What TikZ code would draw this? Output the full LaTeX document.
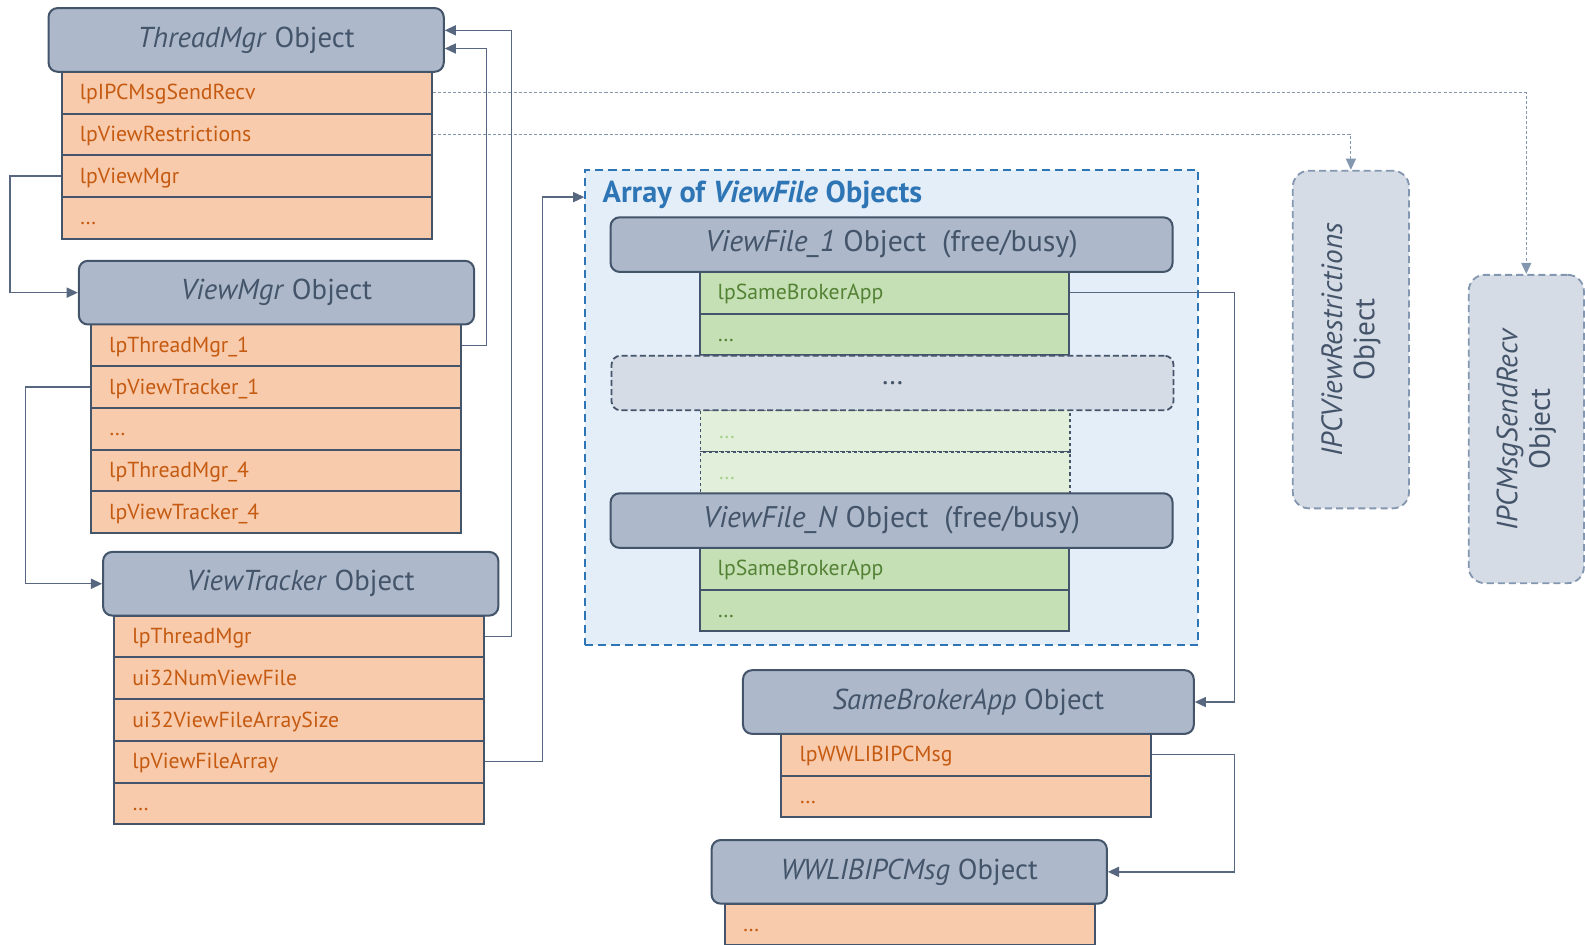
\documentclass[tikz,border=0pt]{standalone}
\usepackage{fontspec}
\setmainfont{PT Sans}
\usetikzlibrary{arrows.meta,calc}

\definecolor{slate}{HTML}{44546A}
\definecolor{hdrfill}{HTML}{ADB9CA}
\definecolor{rowfill}{HTML}{F8CBAD}
\definecolor{rowtext}{HTML}{C55A11}
\definecolor{grfill}{HTML}{C5E0B4}
\definecolor{grtext}{HTML}{548235}
\definecolor{fadefill}{HTML}{E2EFDA}
\definecolor{fadetext}{HTML}{A9D18E}
\definecolor{arrfill}{HTML}{E4EEF8}
\definecolor{arrline}{HTML}{2E75B6}
\definecolor{ghostfill}{HTML}{D6DCE5}
\definecolor{refline}{HTML}{8497B0}
\definecolor{linkline}{HTML}{56677F}

\newcommand\HdrFont{\fontsize{28.5}{32}\selectfont}
\newcommand\WideHdrFont{\fontsize{29.5}{33}\selectfont}
\newcommand\RowFont{\fontsize{21.5}{25}\selectfont}
\newcommand\TitleFont{\fontsize{30}{34}\selectfont\bfseries}
\newcommand\IpcFont{\fontsize{29}{32}\selectfont}
\newcommand\RowStrut{\rule[-5.5pt]{0pt}{25pt}}

% one column of member rows: name prefix, x, top y, row style, texts
\newcommand\memberrows[5]{%
  \foreach \txt [count=\k] in {#5}{%
    \node[#4] (#1\k) at (#2,{#3+(\k-1)*41.3}) {\RowStrut\txt};
  }}

\tikzset{
  hdr/.style={draw=slate, fill=hdrfill, line width=2pt, rounded corners=9pt,
    anchor=north west, minimum height=63pt, inner sep=0pt, text=slate, font=\HdrFont},
  rowbox/.style={draw=slate, line width=2pt, anchor=north west,
    minimum height=41.3pt, text width=330pt, inner xsep=18pt, inner ysep=0pt,
    align=left, font=\RowFont},
  orangerow/.style={rowbox, fill=rowfill, text=rowtext},
  greenrow/.style={rowbox, fill=grfill, text=grtext},
  faderow/.style={rowbox, fill=fadefill, text=fadetext, dashed, line width=1.6pt},
  ghost/.style={draw=refline, fill=ghostfill, line width=1.8pt,
    dash pattern=on 7pt off 4pt, rounded corners=16pt, anchor=north west, inner sep=0pt},
  link/.style={draw=linkline, line width=1.3pt,
    -{Triangle[length=11pt,width=10pt]}},
  ref/.style={draw=refline, line width=1.1pt, dash pattern=on 3pt off 2pt,
    -{Triangle[length=11pt,width=10pt]}},
}

\begin{document}
\begin{tikzpicture}[x=1pt,y=-1pt]
\useasboundingbox (0,0) rectangle (1568,934);

% ThreadMgr
\memberrows{tm}{60}{70}{orangerow}{lpIPCMsgSendRecv,lpViewRestrictions,lpViewMgr,…}
\node[hdr, minimum width=391pt] (tmh) at (47,7) {\textit{ThreadMgr} Object};

% ViewMgr
\memberrows{vm}{89}{320}{orangerow}{lpThreadMgr\_1,lpViewTracker\_1,…,lpThreadMgr\_4,lpViewTracker\_4}
\node[hdr, minimum width=391pt] (vmh) at (77,257) {\textit{ViewMgr} Object};

% ViewTracker
\memberrows{vt}{112}{608}{orangerow}{lpThreadMgr,ui32NumViewFile,ui32ViewFileArraySize,lpViewFileArray,…}
\node[hdr, minimum width=391pt] (vth) at (101,545) {\textit{ViewTracker} Object};

% array of ViewFile objects
\node[draw=arrline, fill=arrfill, line width=1.8pt, dash pattern=on 8pt off 5pt,
  anchor=north west, minimum width=606pt, minimum height=470pt, inner sep=0pt] (arr) at (578,167) {};
\node[anchor=west, text=arrline, font=\TitleFont, inner sep=0pt] (arrtitle) at (596,193)
  {Array of \textit{ViewFile} Objects};

\memberrows{vfa}{691}{268}{greenrow}{lpSameBrokerApp,…}
\node[hdr, minimum width=556pt, minimum height=54pt, font=\WideHdrFont] (vf1h) at (603,214)
  {\textit{ViewFile\_1} Object \ (free/busy)};

\memberrows{vfm}{692}{405}{faderow}{…,…}
\node[draw=slate, fill=ghostfill, line width=1.8pt, dash pattern=on 6pt off 3pt,
  rounded corners=9pt, anchor=north west, minimum width=556pt, minimum height=54pt,
  inner sep=0pt, text=slate, font=\HdrFont] (vfmid) at (604,351) {…};

\memberrows{vfb}{691}{541}{greenrow}{lpSameBrokerApp,…}
\node[hdr, minimum width=556pt, minimum height=54pt, font=\WideHdrFont] (vfNh) at (603,487)
  {\textit{ViewFile\_N} Object \ (free/busy)};

% SameBrokerApp
\memberrows{sb}{772}{725}{orangerow}{lpWWLIBIPCMsg,…}
\node[hdr, minimum width=446pt] (sbh) at (734,662) {\textit{SameBrokerApp} Object};

% WWLIBIPCMsg
\memberrows{ww}{716}{893}{orangerow}{…}
\node[hdr, minimum width=391pt] (wwh) at (703,830) {\textit{WWLIBIPCMsg} Object};

% IPC objects
\node[ghost, minimum width=115pt, minimum height=334pt] (ipcV) at (1278,168) {};
\node[rotate=90, align=center, text=slate, font=\IpcFont] (ipcVt)
  at (ipcV.center) {\textit{IPCViewRestrictions}\\Object};
\node[ghost, minimum width=114pt, minimum height=305pt] (ipcM) at (1452,271) {};
\node[rotate=90, align=center, text=slate, font=\IpcFont] (ipcMt)
  at (ipcM.center) {\textit{IPCMsgSendRecv}\\Object};

% pointers
\coordinate (tmA) at ($(tmh.east)+(0,-9.5)$);
\coordinate (tmB) at ($(tmh.east)+(0,8.5)$);
\coordinate (arrIn) at ($(arr.north west)+(0,28)$);
\draw[link] (vt1.east) -- ++(26,0) |- (tmA);
\draw[link] (vm1.east) -- ++(24,0) |- (tmB);
\draw[link] (tm3.west) -- ++(-50,0) |- (vmh.west);
\draw[link] (vm2.west) -- ++(-64,0) |- (vth.west);
\draw[link] (vt4.east) -- ++(57,0) |- (arrIn);
\draw[link] (vfa1.east) -- ++(162,0) |- (sbh.east);
\draw[link] (sb1.east) -- ++(81,0) |- (wwh.east);
\draw[ref] (tm1.east) -| (ipcM.north);
\draw[ref] (tm2.east) -| (ipcV.north);
\end{tikzpicture}
\end{document}
